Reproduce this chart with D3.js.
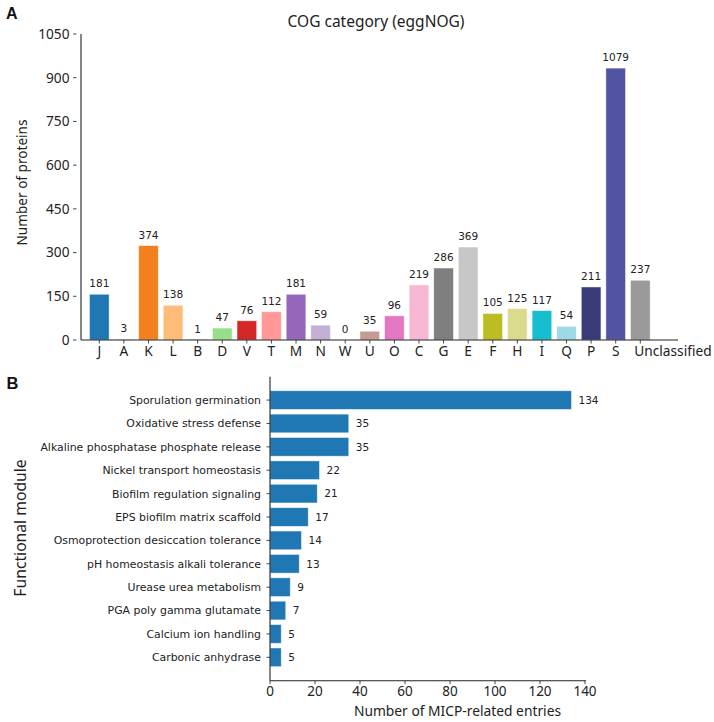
<!DOCTYPE html>
<html>
<head>
<meta charset="utf-8">
<script src="https://cdn.jsdelivr.net/npm/d3@7"></script>
<style>
  html, body { margin: 0; padding: 0; background: #fff; }
  svg { display: block; }
</style>
</head>
<body>
<svg id="chart" width="714" height="722"></svg>
<script>
// ---------- Panel A data ----------
const cogCategories = ["J","A","K","L","B","D","V","T","M","N","W","U","O","C","G","E","F","H","I","Q","P","S","Unclassified"];
// bar heights as read against the drawn y axis
const cogHeights = [157, 3, 324, 119, 1, 41, 66, 97, 157, 51, 0, 30, 83, 189, 247, 319, 91, 108, 101, 47, 182, 933, 205];
// annotated counts printed above bars
const cogLabels = [181, 3, 374, 138, 1, 47, 76, 112, 181, 59, 0, 35, 96, 219, 286, 369, 105, 125, 117, 54, 211, 1079, 237];
const cogColors = ["#1f77b4","#aec7e8","#f2801e","#ffbb78","#2ca02c","#98df8a","#d62728","#ff9896","#9467bd","#c5b0d5","#8c564b","#c49c94","#e377c2","#f7b6d2","#7f7f7f","#c7c7c7","#bcbd22","#dbdb8d","#17becf","#9edae5","#393b79","#5254a3","#9a9a9a"];
const cogTicks = [0, 150, 300, 450, 600, 750, 900, 1050];

// ---------- Panel B data ----------
const modules = ["Sporulation germination","Oxidative stress defense","Alkaline phosphatase phosphate release","Nickel transport homeostasis","Biofilm regulation signaling","EPS biofilm matrix scaffold","Osmoprotection desiccation tolerance","pH homeostasis alkali tolerance","Urease urea metabolism","PGA poly gamma glutamate","Calcium ion handling","Carbonic anhydrase"];
const moduleCounts = [134, 35, 35, 22, 21, 17, 14, 13, 9, 7, 5, 5];
const entryTicks = [0, 20, 40, 60, 80, 100, 120, 140];

const svg = d3.select("#chart");
const TXT = "#222";
const SANS = "'Noto Sans', 'Open Sans', sans-serif";
const DEJA = "'DejaVu Sans', sans-serif";

// ================= Panel A =================
const A = { left: 81, right: 678, top: 34, bottom: 340 };
const xA = d3.scaleLinear().domain([-0.744, 23.533]).range([A.left, A.right]);
const yA = d3.scaleLinear().domain([0, 1050]).range([A.bottom, A.top]);
const stepA = xA(1) - xA(0);
const bwA = stepA * 0.8;

const gA = svg.append("g");

gA.selectAll("rect.cog").data(cogCategories).join("rect")
  .attr("class", "cog")
  .attr("x", (d, i) => xA(i) - bwA / 2)
  .attr("width", bwA)
  .attr("y", (d, i) => yA(cogHeights[i]))
  .attr("height", (d, i) => yA(0) - yA(cogHeights[i]))
  .attr("fill", (d, i) => cogColors[i])
  .attr("stroke", "#ffffff")
  .attr("stroke-opacity", 0.6)
  .attr("stroke-width", 0.8);

gA.selectAll("text.val").data(cogCategories).join("text")
  .attr("class", "val")
  .attr("x", (d, i) => xA(i))
  .attr("y", (d, i) => yA(cogHeights[i]) - 7)
  .attr("text-anchor", "middle")
  .attr("font-family", DEJA)
  .attr("font-size", 10.5)
  .attr("fill", TXT)
  .text((d, i) => cogLabels[i]);

// spines
gA.append("line").attr("x1", A.left).attr("x2", A.left).attr("y1", A.top).attr("y2", A.bottom)
  .attr("stroke", "#222").attr("stroke-width", 1.1);
gA.append("line").attr("x1", A.left).attr("x2", A.right).attr("y1", A.bottom).attr("y2", A.bottom)
  .attr("stroke", "#222").attr("stroke-width", 1.1);

// y ticks (detached dash style)
const yTicksA = gA.append("g");
cogTicks.forEach(t => {
  yTicksA.append("line").attr("x1", A.left - 8).attr("x2", A.left - 4.5)
    .attr("y1", yA(t)).attr("y2", yA(t)).attr("stroke", "#333").attr("stroke-width", 0.9);
  yTicksA.append("text").attr("x", A.left - 11.5).attr("y", yA(t))
    .attr("dy", "0.35em").attr("text-anchor", "end")
    .attr("font-family", SANS).attr("font-size", 13.7).attr("fill", TXT).text(t);
});

// x ticks
cogCategories.forEach((c, i) => {
  const last = i === cogCategories.length - 1;
  gA.append("line").attr("x1", xA(i)).attr("x2", xA(i)).attr("y1", A.bottom).attr("y2", A.bottom + 3.5)
    .attr("stroke", "#333").attr("stroke-width", 0.9);
  gA.append("text").attr("x", last ? xA(i) - 6 : xA(i)).attr("y", 356)
    .attr("text-anchor", last ? "start" : "middle").attr("font-family", SANS).attr("font-size", 13.7)
    .attr("fill", TXT).text(c);
});

gA.append("text").attr("x", 376).attr("y", 27).attr("text-anchor", "middle")
  .attr("font-family", SANS).attr("font-size", 15.5).attr("fill", TXT)
  .text("COG category (eggNOG)");

gA.append("text").attr("transform", "translate(26.5,182.5) rotate(-90)")
  .attr("text-anchor", "middle").attr("font-family", SANS).attr("font-size", 13.6)
  .attr("fill", TXT).text("Number of proteins");

svg.append("text").attr("x", 6).attr("y", 18.5).attr("font-family", "'Liberation Sans', Arial, sans-serif")
  .attr("font-weight", "bold").attr("font-size", 16).attr("fill", "#111").text("A");

// ================= Panel B =================
const B = { left: 270, right: 585, top: 376.7, bottom: 680.7 };
const xB = d3.scaleLinear().domain([0, 140]).range([B.left, B.right]);
const yB = d3.scaleLinear().domain([-1, 12]).range([B.top, B.bottom]);
const stepB = yB(1) - yB(0);
const bhB = stepB * 0.8;

const gB = svg.append("g");

gB.selectAll("rect.mod").data(modules).join("rect")
  .attr("class", "mod")
  .attr("x", xB(0))
  .attr("y", (d, i) => yB(i) - bhB / 2)
  .attr("height", bhB)
  .attr("width", (d, i) => xB(moduleCounts[i]) - xB(0))
  .attr("fill", "#1f77b4")
  .attr("stroke", "#ffffff")
  .attr("stroke-opacity", 0.6)
  .attr("stroke-width", 0.8);

gB.selectAll("text.val").data(modules).join("text")
  .attr("class", "val")
  .attr("x", (d, i) => xB(moduleCounts[i]) + 7)
  .attr("y", (d, i) => yB(i))
  .attr("dy", "0.36em")
  .attr("font-family", DEJA).attr("font-size", 10.5).attr("fill", TXT)
  .text((d, i) => moduleCounts[i]);

gB.append("line").attr("x1", B.left).attr("x2", B.left).attr("y1", B.top).attr("y2", B.bottom)
  .attr("stroke", "#222").attr("stroke-width", 1.1);
gB.append("line").attr("x1", B.left).attr("x2", B.right + 1).attr("y1", B.bottom).attr("y2", B.bottom)
  .attr("stroke", "#222").attr("stroke-width", 1.1);

modules.forEach((m, i) => {
  gB.append("line").attr("x1", B.left - 3.5).attr("x2", B.left).attr("y1", yB(i)).attr("y2", yB(i))
    .attr("stroke", "#333").attr("stroke-width", 0.9);
  gB.append("text").attr("x", 261).attr("y", yB(i)).attr("dy", "0.36em")
    .attr("text-anchor", "end").attr("font-family", DEJA).attr("font-size", 10.9)
    .attr("fill", TXT).text(m);
});

entryTicks.forEach(t => {
  gB.append("line").attr("x1", xB(t)).attr("x2", xB(t)).attr("y1", B.bottom).attr("y2", B.bottom + 3.5)
    .attr("stroke", "#333").attr("stroke-width", 0.9);
  gB.append("text").attr("x", xB(t)).attr("y", 696)
    .attr("text-anchor", "middle").attr("font-family", SANS).attr("font-size", 13.5)
    .attr("fill", TXT).text(t);
});

gB.append("text").attr("x", 457.5).attr("y", 716).attr("text-anchor", "middle")
  .attr("font-family", SANS).attr("font-size", 13.8).attr("fill", TXT)
  .text("Number of MICP-related entries");

gB.append("text").attr("transform", "translate(26,528) rotate(-90)")
  .attr("text-anchor", "middle").attr("font-family", SANS).attr("font-size", 15.7)
  .attr("fill", TXT).text("Functional module");

svg.append("text").attr("x", 6.5).attr("y", 389).attr("font-family", "'Liberation Sans', Arial, sans-serif")
  .attr("font-weight", "bold").attr("font-size", 16.5).attr("fill", "#111").text("B");
</script>
</body>
</html>
